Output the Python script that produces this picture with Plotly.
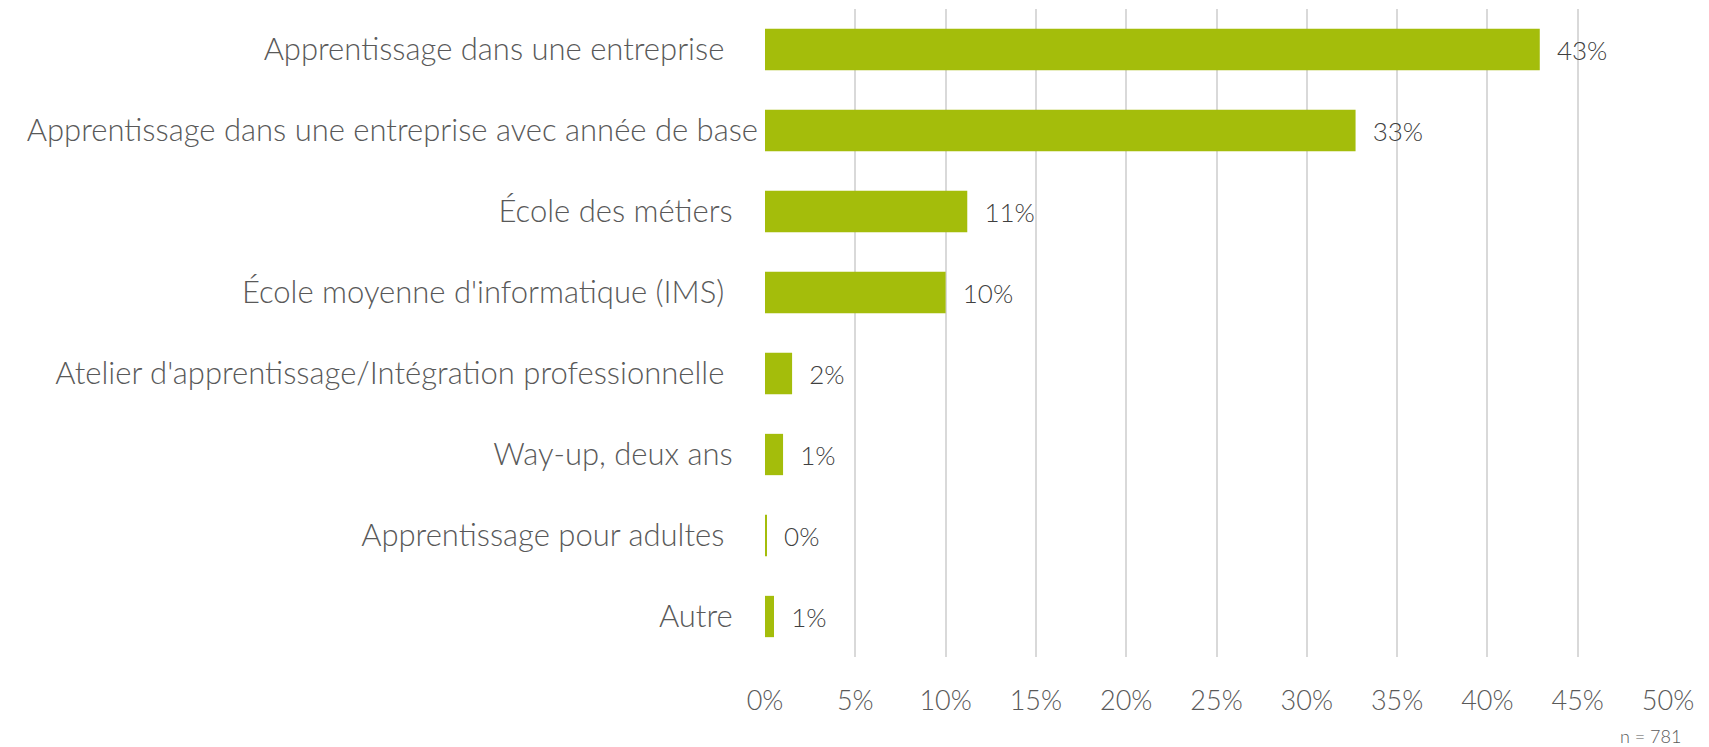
import plotly.graph_objects as go

categories = [
    "Apprentissage dans une entreprise",
    "Apprentissage dans une entreprise avec année de base",
    "École des métiers",
    "École moyenne d'informatique (IMS)",
    "Atelier d'apprentissage/Intégration professionnelle",
    "Way-up, deux ans",
    "Apprentissage pour adultes",
    "Autre",
]
values = [42.9, 32.7, 11.2, 10.0, 1.5, 1.0, 0.1, 0.5]
value_labels = ["43%", "33%", "11%", "10%", "2%", "1%", "0%", "1%"]
# trailing blanks present in the original category labels
label_pad = [4, 0, 3, 4, 4, 3, 4, 3]
x_ticks = [0, 5, 10, 15, 20, 25, 30, 35, 40, 45, 50]
x_ticklabels = [f"{t}%" for t in x_ticks]
note = "n = 781"

FONT = "Lato, 'Open Sans', sans-serif"

fig = go.Figure()
fig.add_trace(go.Bar(
    y=categories,
    x=values,
    orientation="h",
    marker=dict(color="#A4BD0B", line=dict(width=0)),
    text=["\u00a0\u00a0" + t for t in value_labels],
    textposition="outside",
    cliponaxis=False,
    textfont=dict(family=FONT, size=26, color="#404040", weight=300),
    hoverinfo="skip",
))

fig.update_layout(
    width=1701,
    height=739,
    paper_bgcolor="white",
    plot_bgcolor="white",
    margin=dict(l=757, r=41, t=1, b=90),
    bargap=0.49,
    showlegend=False,
    font=dict(family=FONT, color="#595959"),
    xaxis=dict(
        range=[0, 50],
        tickvals=x_ticks,
        ticktext=x_ticklabels,
        showgrid=True,
        gridcolor="#D9D9D9",
        gridwidth=1.5,
        zeroline=False,
        showline=False,
        ticks="",
        tickfont=dict(family=FONT, size=27, color="#595959", weight=300),
        ticklabelstandoff=25,
    ),
    yaxis=dict(
        autorange="reversed",
        tickvals=categories,
        ticktext=[c + "\u00a0" * p for c, p in zip(categories, label_pad)],
        showgrid=False,
        zeroline=False,
        showline=False,
        ticks="",
        tickfont=dict(family=FONT, size=31, color="#595959", weight=300),
        ticklabelstandoff=6,
    ),
    annotations=[dict(
        text=note,
        xref="paper", yref="paper",
        x=1.0165, y=0, xanchor="right", yanchor="middle",
        yshift=-79,
        showarrow=False,
        font=dict(family=FONT, size=18, color="#595959", weight=300),
    )],
)

fig.write_html("out.html")
